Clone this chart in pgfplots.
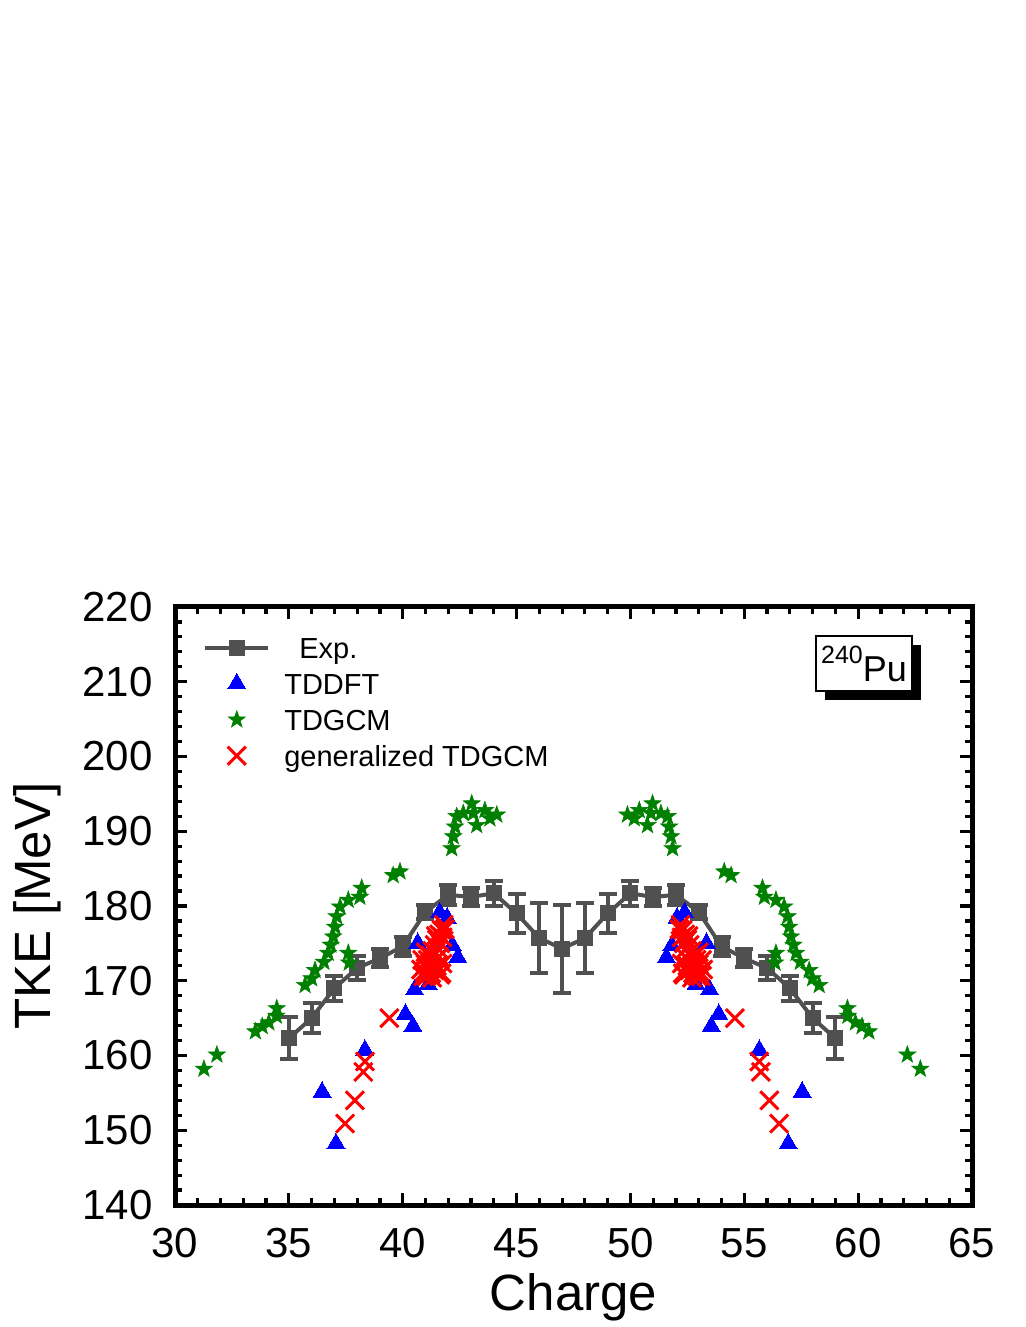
\documentclass[border=0pt]{standalone}
\usepackage{fontspec}
\setmainfont{Liberation Sans}
\usepackage{pgfplots}
\pgfplotsset{compat=1.18}
\usetikzlibrary{shadows}
\definecolor{expgray}{RGB}{80,80,80}
\definecolor{tdgreen}{RGB}{0,128,0}
\pgfdeclareplotmark{fstar}{%
  \pgfpathmoveto{\pgfpointpolar{90}{\pgfplotmarksize}}%
  \pgfpathlineto{\pgfpointpolar{126}{0.40\pgfplotmarksize}}%
  \pgfpathlineto{\pgfpointpolar{162}{\pgfplotmarksize}}%
  \pgfpathlineto{\pgfpointpolar{198}{0.40\pgfplotmarksize}}%
  \pgfpathlineto{\pgfpointpolar{234}{\pgfplotmarksize}}%
  \pgfpathlineto{\pgfpointpolar{270}{0.40\pgfplotmarksize}}%
  \pgfpathlineto{\pgfpointpolar{306}{\pgfplotmarksize}}%
  \pgfpathlineto{\pgfpointpolar{342}{0.40\pgfplotmarksize}}%
  \pgfpathlineto{\pgfpointpolar{18}{\pgfplotmarksize}}%
  \pgfpathlineto{\pgfpointpolar{54}{0.40\pgfplotmarksize}}%
  \pgfpathclose
  \pgfusepathqfillstroke}

\pgfplotstableread{
Z TKE err
35 162.3 2.8
36 165.0 2.0
37 169.0 1.7
38 171.7 1.6
39 173.0 1.2
40 174.6 1.3
41 179.2 0.9
42 181.5 1.3
43 181.2 1.2
44 181.7 1.7
45 179.0 2.6
46 175.7 4.7
47 174.3 5.9
48 175.7 4.7
49 179.0 2.6
50 181.7 1.7
51 181.2 1.2
52 181.5 1.3
53 179.2 0.9
54 174.6 1.3
55 173.0 1.2
56 171.7 1.6
57 169.0 1.7
58 165.0 2.0
59 162.3 2.8
}\expdata

\pgfplotstableread{
Z TKE
36.46 155.1
37.07 148.2
38.34 160.7
40.12 165.5
40.45 163.9
40.52 168.8
41.12 169.5
40.66 175.0
41.62 179.1
41.95 178.4
41.75 176.6
42.18 174.7
42.42 173.1
57.54 155.1
56.93 148.2
55.66 160.7
53.88 165.5
53.55 163.9
53.48 168.8
52.88 169.5
53.34 175.0
52.38 179.1
52.05 178.4
52.25 176.6
51.82 174.7
51.58 173.1
}\tddft

\pgfplotstableread{
Z TKE
31.27 158.2
31.84 160.1
33.53 163.2
33.83 163.9
34.12 164.4
34.45 165.3
34.47 166.3
35.71 169.4
36.00 170.3
36.15 171.4
36.54 172.5
36.73 173.7
36.84 174.8
36.95 175.9
37.03 177.2
37.10 178.6
37.25 179.9
37.61 180.8
38.12 181.2
38.20 182.4
37.61 173.7
37.65 172.4
39.58 184.1
39.88 184.6
42.15 187.7
42.22 189.3
42.30 190.6
42.37 192.0
42.66 192.4
43.03 193.7
43.10 192.4
43.25 190.8
43.61 192.8
43.83 191.7
44.13 192.2
62.73 158.2
62.16 160.1
60.47 163.2
60.17 163.9
59.88 164.4
59.55 165.3
59.53 166.3
58.29 169.4
58.00 170.3
57.85 171.4
57.46 172.5
57.27 173.7
57.16 174.8
57.05 175.9
56.97 177.2
56.90 178.6
56.75 179.9
56.39 180.8
55.88 181.2
55.80 182.4
56.39 173.7
56.35 172.4
54.42 184.1
54.12 184.6
51.85 187.7
51.78 189.3
51.70 190.6
51.63 192.0
51.34 192.4
50.97 193.7
50.90 192.4
50.75 190.8
50.39 192.8
50.17 191.7
49.87 192.2
}\tdgcm

\pgfplotstableread{
Z TKE
39.41 165.0
38.34 159.2
38.27 157.8
37.90 154.0
37.47 150.9
41.80 177.5
41.85 176.9
41.70 176.8
41.60 176.2
41.75 175.8
41.50 175.5
41.65 175.0
41.40 174.8
41.55 174.3
41.30 174.0
41.00 173.8
41.45 173.6
41.20 173.4
41.60 173.2
41.10 172.8
40.85 172.8
41.35 172.5
41.75 172.3
41.00 172.2
41.50 172.0
41.15 171.7
40.80 171.5
41.40 171.4
40.95 171.2
41.25 171.0
41.70 171.0
41.55 171.3
41.05 170.6
40.90 170.6
41.65 170.8
41.30 170.4
41.20 172.0
41.45 176.0
54.59 165.0
55.66 159.2
55.73 157.8
56.10 154.0
56.53 150.9
52.20 177.5
52.15 176.9
52.30 176.8
52.40 176.2
52.25 175.8
52.50 175.5
52.35 175.0
52.60 174.8
52.45 174.3
52.70 174.0
53.00 173.8
52.55 173.6
52.80 173.4
52.40 173.2
52.90 172.8
53.15 172.8
52.65 172.5
52.25 172.3
53.00 172.2
52.50 172.0
52.85 171.7
53.20 171.5
52.60 171.4
53.05 171.2
52.75 171.0
52.30 171.0
52.45 171.3
52.95 170.6
53.10 170.6
52.35 170.8
52.70 170.4
52.80 172.0
52.55 176.0
}\gtdgcm

\begin{document}
\begin{tikzpicture}
\useasboundingbox (-87.5pt,-61pt) rectangle (425.5pt,602.5pt);
\begin{axis}[
  width=398.5pt, height=299pt, scale only axis,
  xmin=30, xmax=65, ymin=140, ymax=220,
  xtick={30,35,...,65}, ytick={140,150,...,220},
  minor x tick num=4, minor y tick num=4,
  tick align=inside,
  major tick length=6pt, minor tick length=3.5pt,
  every tick/.style={line width=1.6pt, black},
  axis line style={line width=2.5pt},
  /pgf/number format/assume math mode=true,
  tick label style={font=\fontsize{21}{24}\selectfont},
  xticklabel style={inner sep=0pt, anchor=north, yshift=-11.5pt},
  yticklabel style={inner sep=0pt, anchor=east, xshift=-11pt},
  xlabel={Charge}, ylabel={TKE [MeV]},
  label style={font=\fontsize{25.5}{28}\selectfont},
  xlabel style={at={(axis description cs:0.5,-0.154)}, anchor=center, inner sep=0pt},
  ylabel style={at={(axis description cs:-0.173,0.5)}, anchor=center, inner sep=0pt},
  legend image code/.code={\draw[mark repeat=2,mark phase=2, yshift=3.5pt] plot coordinates {(0pt,0pt) (15.75pt,0pt) (31.5pt,0pt)};},
  legend cell align=left,
  legend style={at={(rel axis cs:0.0350,0.951)}, anchor=north west, draw=none, fill=none,
    font=\fontsize{14.5}{17}\selectfont, inner sep=0pt, row sep=0pt, column sep=7pt,
    nodes={inner sep=0pt, text height=11pt, text depth=7pt}},
]
\addplot[expgray, line width=2pt, mark=square*, mark size=3.75pt,
  mark options={solid, line width=0.5pt},
  error bars/.cd, y dir=both, y explicit,
  error bar style={line width=2pt, expgray},
  error mark options={expgray, mark size=4.5pt, line width=2pt, rotate=90}]
  table[x=Z, y=TKE, y error=err] {\expdata};
\addlegendentry{\hspace{7.5pt}Exp.}
\addplot[only marks, mark=triangle*, mark size=5.2pt, blue, mark options={fill=blue, draw=blue, line width=0pt}]
  table[x=Z, y=TKE] {\tddft};
\addlegendentry{TDDFT}
\addplot[only marks, mark=fstar, mark size=4.5pt, tdgreen, mark options={fill=tdgreen, draw=tdgreen, line width=0.3pt}]
  table[x=Z, y=TKE] {\tdgcm};
\addlegendentry{TDGCM}
\addplot[only marks, mark=x, mark size=6.4pt, red, mark options={line width=1.5pt}]
  table[x=Z, y=TKE] {\gtdgcm};
\addlegendentry{generalized TDGCM}
\node[draw, line width=1pt, fill=white, minimum width=48pt, minimum height=27.5pt, inner sep=0pt,
  drop shadow={shadow xshift=4.5pt, shadow yshift=-4.5pt, fill=black, opacity=1}]
  at (rel axis cs:0.8645,0.9047)
  {{\fontsize{12.5}{14}\selectfont\raisebox{9pt}{240}}{\fontsize{18}{20}\selectfont Pu}};
\end{axis}
\end{tikzpicture}
\end{document}
